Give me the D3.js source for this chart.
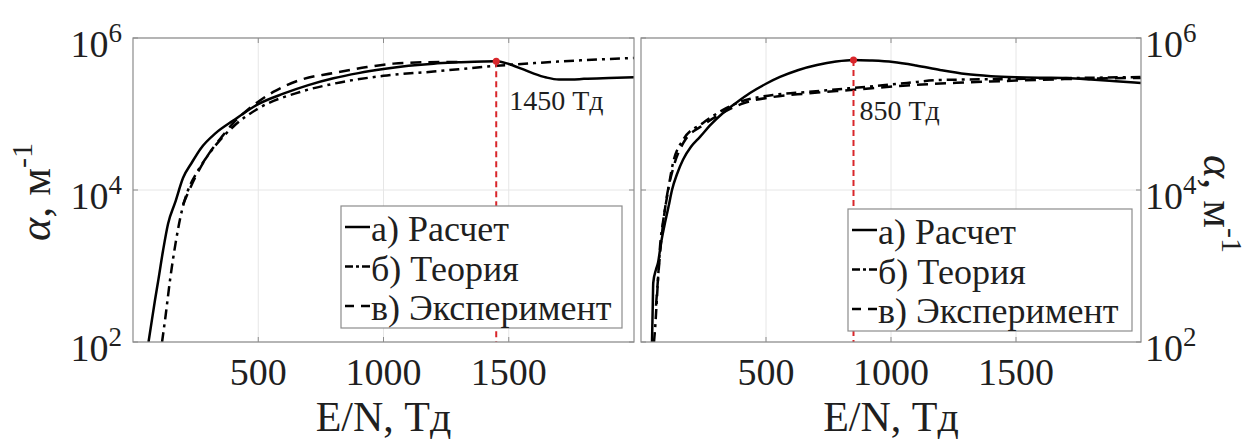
<!DOCTYPE html>
<html>
<head>
<meta charset="utf-8">
<script src="https://cdn.jsdelivr.net/npm/d3@7"></script>
<style>
  body { margin: 0; background: #fff; }
  svg text { font-family: "Liberation Serif", "Times New Roman", serif; fill: #1f1f1f; }
</style>
</head>
<body>
<div id="chart"></div>
<script>
// Tick values and labels
const xTicks = [500, 1000, 1500];
const yTicks = [1e2, 1e4, 1e6];
const legendLabels = ["а) Расчет", "б) Теория", "в) Эксперимент"];
const peaksE = [1450, 850];
const peakLabels = ["1450 Тд", "850 Тд"];

// Left panel: [E/N, alpha]
const calcLeft = [[62,100],[76,200],[88,360],[100,620],[120,1600],[140,3600],[168,6800],[200,14500],
  [235,23000],[270,35000],[330,56000],[400,82000],[500,135000],[600,185000],[700,240000],[800,295000],
  [900,345000],[1000,390000],[1100,430000],[1200,460000],[1300,478000],[1400,492000],[1450,495000],
  [1500,455000],[1550,395000],[1600,340000],[1650,302000],[1700,284000],[1750,284000],[1800,290000],
  [1900,298000],[2000,305000]];
const theoryLeft = [[116,100],[130,220],[148,660],[170,2000],[196,5500],[220,10000],[255,17000],
  [307,31000],[400,68000],[500,118000],[667,195000],[800,250000],[1000,318000],[1200,362000],
  [1450,430000],[1700,490000],[2000,546000]];
const expLeft = [[200,6500],[250,15000],[300,29000],[350,48000],[400,76000],[450,108000],[500,145000],
  [560,195000],[667,280000],[800,346000],[934,415000],[1040,460000],[1150,478000],[1300,485000]];

// Right panel: [E/N, alpha]
const calcRight = [[44,100],[47,300],[49,600],[60,900],[68,1100],[80,2000],[96,3700],[110,6000],
  [124,10000],[145,16500],[168,25000],[200,37000],[236,50000],[280,73000],[328,103000],[380,140000],
  [436,189000],[500,250000],[556,307000],[630,380000],[704,441000],[780,490000],[850,514000],
  [920,505000],[1008,483000],[1100,435000],[1196,379000],[1300,335000],[1400,315000],[1500,305000],
  [1600,300000],[1700,297000],[1800,285000],[1900,270000],[2000,255000]];
const theoryRight = [[52,100],[56,144],[64,391],[76,1780],[90,4200],[104,8090],[128,22600],
  [168,45500],[248,76300],[328,113000],[396,144000],[528,178000],[664,195000],[848,220000],
  [1064,256000],[1196,280000],[1496,289000],[1750,298000],[2000,307000]];
const expRight = [[60,300],[80,2000],[100,7000],[130,20000],[170,42000],[250,72000],[330,105000],
  [400,135000],[530,168000],[664,186000],[848,208000],[1064,238000],[1300,260000],[1500,275000],
  [1700,288000],[2000,298000]];

const width = 1256, height = 441;
const plotTop = 38, plotBottom = 342;

const svg = d3.select("#chart").append("svg")
  .attr("width", width)
  .attr("height", height);

// line styles: solid, dash-dot, dashed
const dashes = [null, "10,5,3,5", "11,7"];
const legendDashes = [null, "8,3,3,3", "9,7"];

const panels = [
  {x0: 133, x1: 634, series: [calcLeft, theoryLeft, expLeft], side: "left",
   legend: {x: 341, y: 206, w: 281, h: 122}, labelDx: 13, labelDy: 49},
  {x0: 641, x1: 1141, series: [calcRight, theoryRight, expRight], side: "right",
   legend: {x: 848, y: 209, w: 284, h: 122}, labelDx: 6, labelDy: 60}
];

panels.forEach((p, pi) => {
  const x = d3.scaleLinear().domain([0, 2000]).range([p.x0, p.x1]);
  const y = d3.scaleLog().domain([1e2, 1e6]).range([plotBottom, plotTop]);
  const g = svg.append("g");

  // grid
  g.selectAll(".gx").data(xTicks).enter().append("line")
    .attr("x1", d => x(d)).attr("x2", d => x(d))
    .attr("y1", plotTop).attr("y2", plotBottom)
    .attr("stroke", "#e6e6e6");
  g.selectAll(".gy").data(yTicks).enter().append("line")
    .attr("x1", p.x0).attr("x2", p.x1)
    .attr("y1", d => y(d)).attr("y2", d => y(d))
    .attr("stroke", "#e6e6e6");

  // clip to the plot area
  const clipId = "clip" + pi;
  svg.append("clipPath").attr("id", clipId).append("rect")
    .attr("x", p.x0).attr("y", plotTop).attr("width", p.x1 - p.x0).attr("height", plotBottom - plotTop);

  const line = d3.line()
    .x(d => x(d[0])).y(d => y(d[1]))
    .curve(d3.curveMonotoneX);

  const curves = g.append("g").attr("clip-path", `url(#${clipId})`);
  p.series.forEach((s, i) => {
    curves.append("path")
      .attr("d", line(s))
      .attr("fill", "none")
      .attr("stroke", "#000")
      .attr("stroke-width", 2.5)
      .attr("stroke-dasharray", dashes[i]);
  });

  // peak marker
  const peak = p.series[0].find(d => d[0] === peaksE[pi]);
  g.append("line")
    .attr("x1", x(peak[0])).attr("x2", x(peak[0]))
    .attr("y1", y(peak[1])).attr("y2", plotBottom)
    .attr("stroke", "#d9262b").attr("stroke-width", 2)
    .attr("stroke-dasharray", "6,4");
  g.append("circle")
    .attr("cx", x(peak[0])).attr("cy", y(peak[1])).attr("r", 3.5)
    .attr("fill", "#d9262b");
  g.append("text")
    .attr("x", x(peak[0]) + p.labelDx)
    .attr("y", y(peak[1]) + p.labelDy)
    .attr("font-size", 28)
    .text(peakLabels[pi]);

  // box and inward ticks
  g.append("rect")
    .attr("x", p.x0).attr("y", plotTop)
    .attr("width", p.x1 - p.x0).attr("height", plotBottom - plotTop)
    .attr("fill", "none").attr("stroke", "#8c8c8c").attr("stroke-width", 1.2);
  xTicks.forEach(t => {
    g.append("line").attr("x1", x(t)).attr("x2", x(t)).attr("y1", plotBottom).attr("y2", plotBottom - 5)
      .attr("stroke", "#8c8c8c");
    g.append("line").attr("x1", x(t)).attr("x2", x(t)).attr("y1", plotTop).attr("y2", plotTop + 5)
      .attr("stroke", "#8c8c8c");
  });
  yTicks.forEach(t => {
    g.append("line").attr("x1", p.x0).attr("x2", p.x0 + 5).attr("y1", y(t)).attr("y2", y(t))
      .attr("stroke", "#8c8c8c");
    g.append("line").attr("x1", p.x1).attr("x2", p.x1 - 5).attr("y1", y(t)).attr("y2", y(t))
      .attr("stroke", "#8c8c8c");
  });

  // x tick labels
  g.selectAll(".xl").data(xTicks).enter().append("text")
    .attr("x", d => x(d)).attr("y", 385)
    .attr("text-anchor", "middle")
    .attr("font-size", 38)
    .text(d => d);

  // y tick labels (10 with exponent)
  const yl = g.selectAll(".yl").data(yTicks).enter().append("text")
    .attr("x", p.side === "left" ? p.x0 - 11 : p.x1 + 4)
    .attr("y", d => y(d) + 19)
    .attr("text-anchor", p.side === "left" ? "end" : "start")
    .attr("font-size", 38);
  yl.append("tspan").text("10");
  yl.append("tspan").attr("dy", -15).attr("font-size", 27).text(d => Math.round(Math.log10(d)));

  // axis labels
  g.append("text")
    .attr("x", (p.x0 + p.x1) / 2).attr("y", 431)
    .attr("text-anchor", "middle")
    .attr("font-size", 42)
    .text("E/N, Тд");

  const ylab = g.append("text")
    .attr("text-anchor", "middle")
    .attr("font-size", 44)
    .attr("transform", p.side === "left" ? "translate(50,192) rotate(-90)" : "translate(1204,204) rotate(90)");
  ylab.append("tspan").attr("font-style", "italic").text("α");
  ylab.append("tspan").text(", м");
  ylab.append("tspan").attr("dy", -18).attr("font-size", 30).text("-1");

  // legend
  const L = p.legend;
  const lg = g.append("g");
  lg.append("rect")
    .attr("x", L.x).attr("y", L.y).attr("width", L.w).attr("height", L.h)
    .attr("fill", "#fff").attr("stroke", "#8c8c8c").attr("stroke-width", 1.2);
  legendLabels.forEach((lab, i) => {
    lg.append("line")
      .attr("x1", L.x + 4).attr("x2", L.x + 29)
      .attr("y1", L.y + 21 + i * 39.5).attr("y2", L.y + 21 + i * 39.5)
      .attr("stroke", "#000").attr("stroke-width", 2.5)
      .attr("stroke-dasharray", legendDashes[i]);
    lg.append("text")
      .attr("x", L.x + 30).attr("y", L.y + 35 + i * 39.5)
      .attr("font-size", 36)
      .text(lab);
  });
});
</script>
</body>
</html>
